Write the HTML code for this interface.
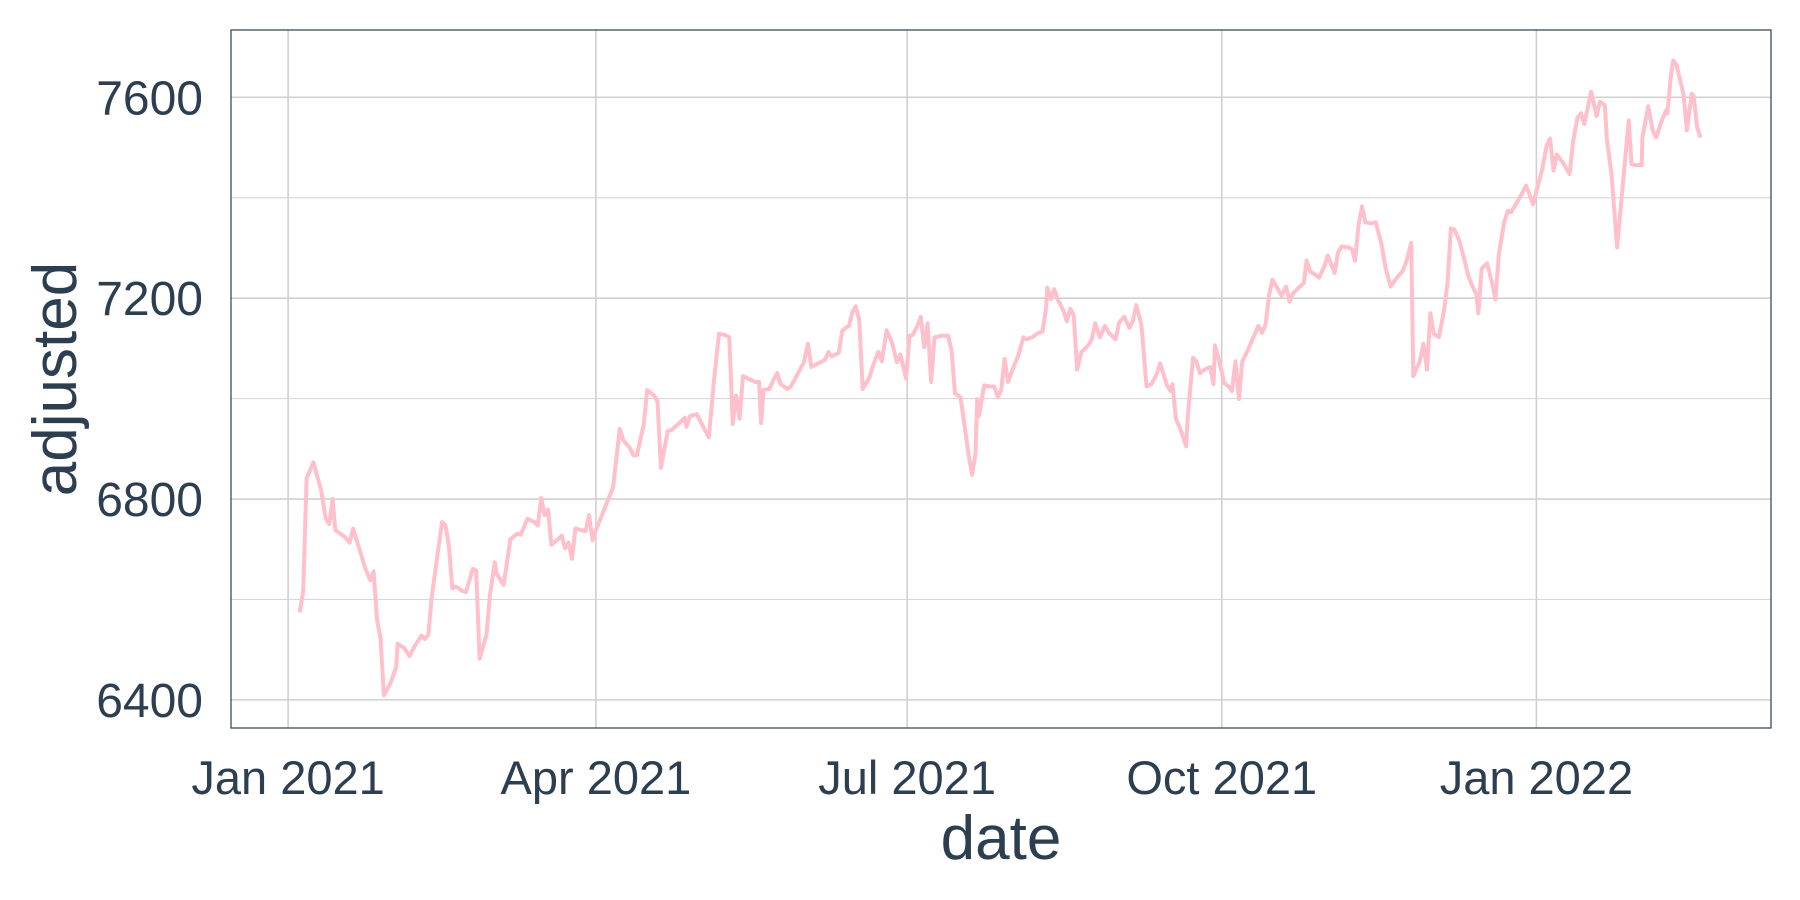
<!DOCTYPE html>
<html><head><meta charset="utf-8"><style>
html,body{margin:0;padding:0;background:#fff;}
svg{display:block;font-family:"Liberation Sans",sans-serif;}
</style></head><body>
<svg id="chart" width="1800" height="900"></svg>
<script>
const days=[3.4,4.4,5.4,7.4,9.7,11,12,13,13.8,16.5,18,19,21,22.5,24,25,26,27,28,30,31.6,32,34,35.5,37,39,40,41,42,45,46,47,48,49,51,52,53,54,55,56,58,59,60.4,61,63,64,65,67,68,69,70,72,73,74,75,76,77,78.6,80,81,82,83,84,85.6,87,88,89,90,95,97,98,100,101,102,104,105,107,108,109,111,112,114,116,116.5,117.5,119.5,121,123,124.6,126,127.6,129,130,131,132,133,135,136.7,137.7,138.3,139,140.7,142,143,144,146,147,149,150.8,152,153,155,157,158,159,161,162,163,164,165,166,167,168,170,171,172.6,173.6,175,176.6,178,179,180.7,181.7,182.7,184,185,186,187,188,189,191,193,194,195,196.6,198,199,200,201,201.5,202,203.5,205.5,206.5,207.5,208.5,209.5,210.5,212,213.5,215,216,217.6,219,220.6,221.6,222,223,224,225,226.7,227.7,228.7,229.7,230.7,232,233.7,235,236,237.4,238.8,240,242,243,244.5,246,247,248,249.5,251,252.5,254,255,257,258,258.6,259.6,261,262.6,263,264.6,265.6,266.6,268,269.6,270.6,271,272,273.7,275,276,277,278,279,280.7,282,283.7,284.8,285.8,286.8,287.8,289,290.5,291.8,292.8,293.8,295.5,297,297.8,298.9,300,301.5,303,304,306,307,308,310,311,312,313,314,315,316.5,318,319.7,321,322.4,324,326,327,328.4,329,330.8,332,333,334,335,336.5,338,339,340,341,342.5,344,345,346.5,347.5,348,349,350.6,352,353,354,355.6,356.6,357.6,359,360.6,362,363,364,365,366.7,368,369,370,371,373,374.7,375.7,377,378,379,380,381,382.6,383.6,385,385.6,387,388.6,390,392,392.8,394,395.8,396,397.7,399,400,401.7,403,403.3,404.3,405,406,408,409,410.4,411,412,413];
const values=[6574,6617,6841,6873,6816,6761,6750,6800,6738,6725,6713,6741,6697,6663,6638,6656,6560,6523,6409,6434,6466,6512,6503,6487,6507,6528,6521,6530,6606,6754,6748,6706,6622,6626,6617,6615,6638,6661,6657,6482,6530,6608,6674,6651,6629,6674,6720,6731,6729,6745,6761,6754,6747,6802,6768,6779,6709,6718,6727,6702,6713,6681,6741,6738,6736,6768,6718,6738,6823,6940,6917,6901,6887,6887,6949,7017,7006,6995,6862,6935,6937,6949,6962,6944,6965,6969,6949,6923,7040,7129,7127,7122,6949,7006,6960,7045,7038,7033,7033,6951,7017,7019,7038,7051,7029,7019,7024,7049,7072,7109,7063,7070,7077,7093,7084,7091,7134,7141,7145,7173,7184,7157,7019,7042,7065,7093,7074,7136,7111,7072,7088,7040,7125,7127,7145,7163,7102,7150,7033,7122,7125,7125,7095,7010,7003,6935,6887,6848,6891,6999,6965,7026,7024,7024,7003,7017,7079,7033,7061,7086,7122,7118,7122,7129,7134,7179,7221,7198,7218,7198,7175,7154,7179,7166,7058,7093,7104,7118,7150,7122,7145,7131,7118,7152,7163,7141,7154,7186,7147,7024,7029,7049,7070,7026,7015,7029,6960,6937,6905,6960,7081,7074,7051,7058,7063,7029,7106,7083,7031,7024,7015,7074,6999,7074,7097,7118,7145,7131,7147,7205,7237,7223,7205,7223,7193,7209,7221,7230,7275,7253,7248,7241,7264,7285,7250,7291,7303,7301,7298,7275,7346,7383,7351,7349,7351,7307,7257,7223,7239,7255,7273,7310,7045,7072,7109,7058,7170,7129,7122,7177,7230,7339,7337,7314,7275,7246,7221,7207,7170,7259,7269,7232,7198,7287,7351,7374,7371,7387,7406,7424,7406,7387,7413,7456,7504,7518,7454,7486,7467,7447,7511,7559,7568,7547,7579,7611,7563,7591,7584,7518,7445,7301,7406,7554,7467,7465,7465,7520,7582,7534,7520,7554,7575,7568,7641,7673,7664,7607,7534,7607,7603,7540,7520];
const yTicks=[6400,6800,7200,7600];
const yMinor=[6600,7000,7400];
const xTickDays=[0,90,181,273,365];
const xTickLabels=["Jan 2021","Apr 2021","Jul 2021","Oct 2021","Jan 2022"];

const L=231,R=1771,T=30,B=728;
const xDom=[-16.7,433.6], yDom=[6344,7734];
const xs=d=>L+(d-xDom[0])/(xDom[1]-xDom[0])*(R-L);
const ys=v=>B-(v-yDom[0])/(yDom[1]-yDom[0])*(B-T);
const NS="http://www.w3.org/2000/svg";
const svg=document.getElementById('chart');
function mk(tag,attrs,parent){const e=document.createElementNS(NS,tag);for(const k in attrs)e.setAttribute(k,attrs[k]);(parent||svg).appendChild(e);return e;}

const grid=mk('g',{});


yMinor.forEach(v=>{const l=mk('line',{x1:L,x2:R,y1:ys(v),y2:ys(v),stroke:'#d9d9d9','stroke-width':1.2},grid);

});
yTicks.forEach(v=>{const l=mk('line',{x1:L,x2:R,y1:ys(v),y2:ys(v),stroke:'#d0d0d0','stroke-width':1.6},grid);

});
xTickDays.forEach(d=>{const l=mk('line',{x1:xs(d),x2:xs(d),y1:T,y2:B,stroke:'#d0d0d0','stroke-width':1.6},grid);

});

const pts=days.map((d,i)=>xs(d).toFixed(1)+','+ys(values[i]).toFixed(1)).join(' ');
const line=mk('polyline',{points:pts,fill:'none',stroke:'#ffc0cb','stroke-width':4,'stroke-linejoin':'round'});



const frame=mk('rect',{x:L,y:T,width:R-L,height:B-T,fill:'none',stroke:'#2c3e50','stroke-width':1.2});



yTicks.forEach(v=>{const t=mk('text',{x:203,y:ys(v)+17,'text-anchor':'end','font-size':48,fill:'#2c3e50'});t.textContent=v;

});
xTickDays.forEach((d,i)=>{const t=mk('text',{x:xs(d),y:794,'text-anchor':'middle','font-size':47,fill:'#2c3e50'});t.textContent=xTickLabels[i];

});
const xt=mk('text',{x:(L+R)/2,y:859,'text-anchor':'middle','font-size':62,fill:'#2c3e50'});xt.textContent='date';


const yt=mk('text',{x:0,y:0,'text-anchor':'middle','font-size':62,fill:'#2c3e50',transform:`translate(76,${(T+B)/2}) rotate(-90)`});yt.textContent='adjusted';


</script>
</body></html>
